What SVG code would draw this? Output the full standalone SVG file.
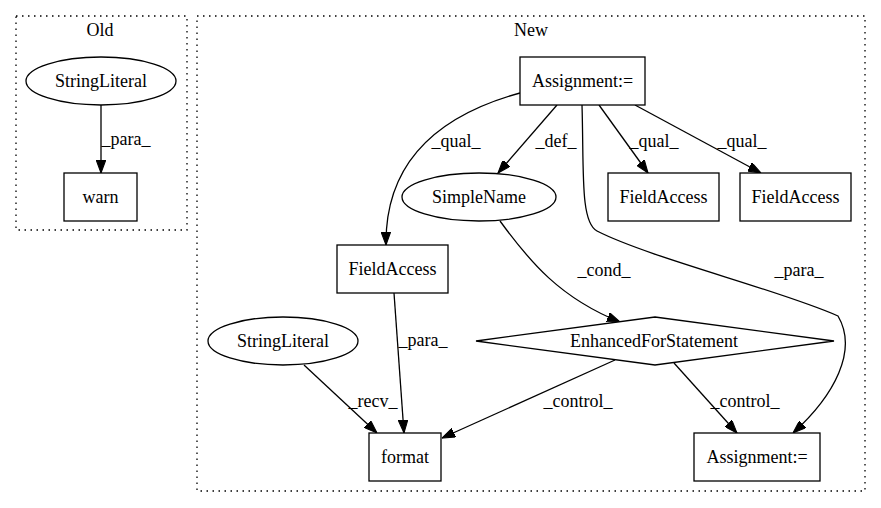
<svg xmlns="http://www.w3.org/2000/svg" width="881" height="508" viewBox="0 0 881 508">
<defs>
<style>
text{font-family:"Liberation Serif","Times New Roman",serif;font-size:18px;fill:#000;text-anchor:middle}
.cl{fill:none;stroke:#000;stroke-width:1.3;stroke-dasharray:1.5,4.5}
.n{fill:#fff;stroke:#000;stroke-width:1.3}
.e{fill:none;stroke:#000;stroke-width:1.3;marker-end:url(#a)}
</style>
<marker id="a" markerUnits="userSpaceOnUse" markerWidth="13" markerHeight="9.5" refX="10" refY="3.5" orient="auto" viewBox="0 0 10 7" preserveAspectRatio="none">
<path d="M0,0 L10,3.5 L0,7 Z" fill="#000" stroke="#000" stroke-width="0.8"/>
</marker>
</defs>
<rect width="881" height="508" fill="#fff"/>
<g id="cluster_old">
<rect class="cl" x="16" y="16" width="171" height="214"/>
<text x="100" y="36">Old</text>
</g>
<g id="cluster_new">
<rect class="cl" x="197" y="16" width="668" height="475"/>
<text x="531" y="36">New</text>
</g>
<g id="edges">
<path class="e" d="M101,105 L101,173"/>
<text x="126" y="145">_para_</text>
<path class="e" d="M520,93 C440,115 385,160 386,245"/>
<text x="456" y="147">_qual_</text>
<path class="e" d="M557,105 L498,173"/>
<text x="556" y="147">_def_</text>
<path class="e" d="M599,105 L648,173"/>
<text x="654" y="147">_qual_</text>
<path class="e" d="M635,105 L761,173"/>
<text x="742" y="147">_qual_</text>
<path class="e" d="M582,105 C584,170 580,222 597,231 C650,258 780,290 838,316 C858,350 835,395 793,433"/>
<text x="799" y="276">_para_</text>
<path class="e" d="M500,221 C530,262 560,298 620,322"/>
<text x="604" y="276">_cond_</text>
<path class="e" d="M394,293 L404,433"/>
<text x="423" y="346">_para_</text>
<path class="e" d="M304,365 L377,433"/>
<text x="373" y="407">_recv_</text>
<path class="e" d="M615,360 L442,438"/>
<text x="578" y="407">_control_</text>
<path class="e" d="M674,363 L737,433"/>
<text x="745" y="407">_control_</text>
</g>
<g id="old_stringliteral">
<ellipse class="n" cx="101" cy="81" rx="75" ry="24"/>
<text x="101" y="87">StringLiteral</text>
</g>
<g id="warn">
<rect class="n" x="64" y="173" width="73" height="48"/>
<text x="100.5" y="203">warn</text>
</g>
<g id="assign_top">
<rect class="n" x="520" y="57" width="125" height="48"/>
<text x="582.5" y="87">Assignment:=</text>
</g>
<g id="simplename">
<ellipse class="n" cx="479" cy="197" rx="77" ry="24"/>
<text x="479" y="203">SimpleName</text>
</g>
<g id="fieldaccess_mid">
<rect class="n" x="608" y="173" width="111" height="48"/>
<text x="663.5" y="203">FieldAccess</text>
</g>
<g id="fieldaccess_right">
<rect class="n" x="740" y="173" width="111" height="48"/>
<text x="795.5" y="203">FieldAccess</text>
</g>
<g id="fieldaccess_left">
<rect class="n" x="337" y="245" width="111" height="48"/>
<text x="392.5" y="275">FieldAccess</text>
</g>
<g id="new_stringliteral">
<ellipse class="n" cx="283" cy="341" rx="75" ry="24"/>
<text x="283" y="347">StringLiteral</text>
</g>
<g id="enhancedfor">
<polygon class="n" points="655,317 834,341 655,365 476,341"/>
<text x="654" y="347">EnhancedForStatement</text>
</g>
<g id="format">
<rect class="n" x="369" y="433" width="72" height="48"/>
<text x="405" y="463">format</text>
</g>
<g id="assign_bottom">
<rect class="n" x="694" y="433" width="126" height="48"/>
<text x="757" y="463">Assignment:=</text>
</g>
</svg>
